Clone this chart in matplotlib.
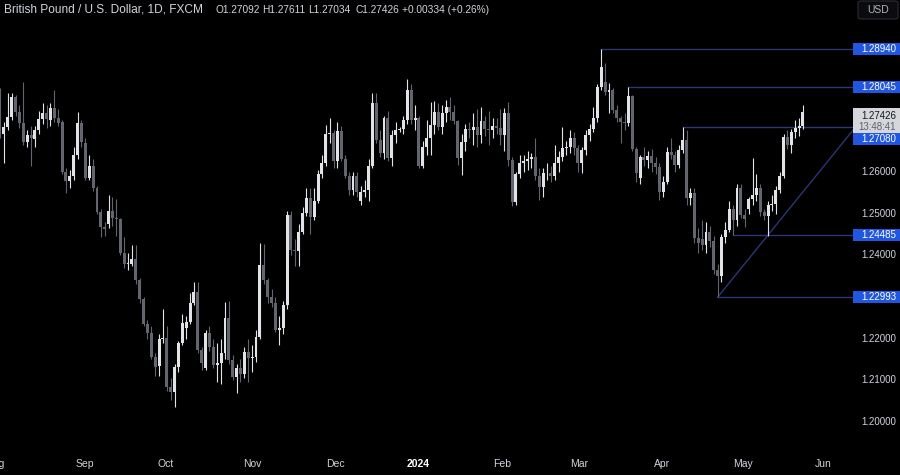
import numpy as np
import matplotlib.pyplot as plt
from matplotlib.patches import Rectangle, FancyBboxPatch
from matplotlib.transforms import blended_transform_factory

# GBPUSD daily candles, Aug 2023 - May 2024
opens = [
    1.2835, 1.2772, 1.2690, 1.2707, 1.2731, 1.2779, 1.2743, 1.2717, 1.2672, 1.2688,
    1.2678, 1.2700, 1.2727, 1.2741, 1.2724, 1.2753, 1.2729, 1.2720, 1.2600, 1.2577,
    1.2590, 1.2640, 1.2717, 1.2670, 1.2585, 1.2615, 1.2561, 1.2504, 1.2468, 1.2475,
    1.2505, 1.2490, 1.2487, 1.2405, 1.2380, 1.2380, 1.2390, 1.2341, 1.2295, 1.2236,
    1.2213, 1.2156, 1.2135, 1.2200, 1.2201, 1.2084, 1.2073, 1.2133, 1.2190, 1.2225,
    1.2240, 1.2285, 1.2312, 1.2173, 1.2130, 1.2213, 1.2180, 1.2137, 1.2142, 1.2165,
    1.2250, 1.2148, 1.2108, 1.2130, 1.2115, 1.2168, 1.2153, 1.2155, 1.2205, 1.2376,
    1.2341, 1.2300, 1.2285, 1.2221, 1.2225, 1.2280, 1.2497, 1.2412, 1.2410, 1.2455,
    1.2501, 1.2538, 1.2492, 1.2530, 1.2595, 1.2622, 1.2691, 1.2693, 1.2625, 1.2698,
    1.2630, 1.2590, 1.2556, 1.2590, 1.2530, 1.2552, 1.2557, 1.2615, 1.2765, 1.2676,
    1.2645, 1.2729, 1.2633, 1.2688, 1.2700, 1.2702, 1.2724, 1.2796, 1.2724, 1.2730,
    1.2614, 1.2659, 1.2681, 1.2712, 1.2743, 1.2707, 1.2742, 1.2756, 1.2743, 1.2722,
    1.2633, 1.2671, 1.2703, 1.2700, 1.2707, 1.2688, 1.2722, 1.2703, 1.2700, 1.2710,
    1.2705, 1.2688, 1.2742, 1.2628, 1.2527, 1.2595, 1.2621, 1.2625, 1.2630, 1.2635,
    1.2590, 1.2563, 1.2597, 1.2597, 1.2590, 1.2621, 1.2635, 1.2657, 1.2660, 1.2681,
    1.2657, 1.2621, 1.2652, 1.2688, 1.2703, 1.2729, 1.2803, 1.2815, 1.2792, 1.2795,
    1.2748, 1.2729, 1.2720, 1.2717, 1.2781, 1.2655, 1.2585, 1.2635, 1.2628, 1.2638,
    1.2621, 1.2612, 1.2551, 1.2576, 1.2647, 1.2640, 1.2616, 1.2652, 1.2676, 1.2537,
    1.2549, 1.2441, 1.2440, 1.2425, 1.2455, 1.2433, 1.2365, 1.2350, 1.2444, 1.2460,
    1.2511, 1.2485, 1.2562, 1.2496, 1.2510, 1.2535, 1.2545, 1.2560, 1.2504, 1.2494,
    1.2520, 1.2522, 1.2556, 1.2590, 1.2683, 1.2664, 1.2695, 1.2705, 1.27092,
]
highs = [
    1.2850, 1.2801, 1.2720, 1.2790, 1.2790, 1.2785, 1.2760, 1.2815, 1.2700, 1.2710,
    1.2710, 1.2745, 1.2765, 1.2760, 1.2765, 1.2796, 1.2750, 1.2725, 1.2610, 1.2605,
    1.2660, 1.2743, 1.2725, 1.2680, 1.2640, 1.2630, 1.2565, 1.2510, 1.2480, 1.2544,
    1.2540, 1.2535, 1.2490, 1.2444, 1.2405, 1.2424, 1.2425, 1.2345, 1.2300, 1.2245,
    1.2230, 1.2165, 1.2210, 1.2270, 1.2230, 1.2105, 1.2140, 1.2195, 1.2260, 1.2255,
    1.2310, 1.2336, 1.2335, 1.2180, 1.2220, 1.2230, 1.2200, 1.2190, 1.2200, 1.2288,
    1.2290, 1.2160, 1.2140, 1.2150, 1.2180, 1.2200, 1.2185, 1.2220, 1.2429, 1.2428,
    1.2345, 1.2320, 1.2300, 1.2255, 1.2290, 1.2505, 1.2505, 1.2440, 1.2475, 1.2515,
    1.2560, 1.2560, 1.2560, 1.2605, 1.2640, 1.2712, 1.2729, 1.2700, 1.2720, 1.2710,
    1.2640, 1.2600, 1.2600, 1.2600, 1.2565, 1.2580, 1.2630, 1.2790, 1.2790, 1.2700,
    1.2735, 1.2745, 1.2700, 1.2720, 1.2708, 1.2735, 1.2823, 1.2810, 1.2760, 1.2735,
    1.2675, 1.2724, 1.2767, 1.2770, 1.2765, 1.2760, 1.2772, 1.2779, 1.2760, 1.2725,
    1.2690, 1.2715, 1.2720, 1.2740, 1.2750, 1.2755, 1.2735, 1.2745, 1.2730, 1.2730,
    1.2750, 1.2753, 1.2767, 1.2635, 1.2600, 1.2640, 1.2640, 1.2650, 1.2645, 1.2681,
    1.2610, 1.2610, 1.2620, 1.2615, 1.2664, 1.2650, 1.2707, 1.2675, 1.2700, 1.2695,
    1.2665, 1.2660, 1.2700, 1.2715, 1.2755, 1.2810, 1.2894, 1.2862, 1.2813, 1.2800,
    1.2760, 1.2735, 1.2740, 1.28045, 1.2785, 1.2660, 1.2640, 1.2659, 1.2650, 1.2655,
    1.2635, 1.2620, 1.2590, 1.2660, 1.2681, 1.2650, 1.2665, 1.2708, 1.2700, 1.2560,
    1.2560, 1.2465, 1.2484, 1.2480, 1.2470, 1.2445, 1.2380, 1.2450, 1.2480, 1.2530,
    1.2520, 1.2570, 1.2570, 1.2510, 1.2540, 1.2633, 1.2595, 1.2570, 1.2510, 1.2530,
    1.2545, 1.2565, 1.2600, 1.2690, 1.2700, 1.2702, 1.2724, 1.2730, 1.27611,
]
lows = [
    1.2760, 1.2680, 1.2621, 1.2700, 1.2725, 1.2735, 1.2705, 1.2665, 1.2660, 1.2615,
    1.2660, 1.2690, 1.2715, 1.2705, 1.2710, 1.2720, 1.2710, 1.2595, 1.2550, 1.2561,
    1.2580, 1.2630, 1.2660, 1.2580, 1.2580, 1.2555, 1.2500, 1.2444, 1.2445, 1.2465,
    1.2470, 1.2445, 1.2400, 1.2370, 1.2365, 1.2375, 1.2330, 1.2285, 1.2230, 1.2200,
    1.2150, 1.2110, 1.2110, 1.2190, 1.2075, 1.2052, 1.2037, 1.2120, 1.2185, 1.2200,
    1.2235, 1.2280, 1.2165, 1.2125, 1.2125, 1.2170, 1.2130, 1.2095, 1.2090, 1.2150,
    1.2140, 1.2100, 1.2070, 1.2095, 1.2105, 1.2095, 1.2120, 1.2145, 1.2200, 1.2330,
    1.2285, 1.2275, 1.2215, 1.2185, 1.2210, 1.2270, 1.2400, 1.2375, 1.2375, 1.2450,
    1.2495, 1.2450, 1.2485, 1.2525, 1.2585, 1.2615, 1.2670, 1.2610, 1.2610, 1.2625,
    1.2585, 1.2545, 1.2545, 1.2540, 1.2520, 1.2540, 1.2530, 1.2610, 1.2670, 1.2635,
    1.2630, 1.2625, 1.2615, 1.2670, 1.2695, 1.2690, 1.2715, 1.2715, 1.2700, 1.2609,
    1.2610, 1.2640, 1.2640, 1.2690, 1.2700, 1.2690, 1.2720, 1.2725, 1.2715, 1.2616,
    1.2592, 1.2650, 1.2680, 1.2665, 1.2660, 1.2670, 1.2685, 1.2665, 1.2680, 1.2690,
    1.2665, 1.2650, 1.2615, 1.2518, 1.2520, 1.2585, 1.2600, 1.2605, 1.2610, 1.2580,
    1.2532, 1.2540, 1.2580, 1.2575, 1.2580, 1.2600, 1.2625, 1.2640, 1.2645, 1.2640,
    1.2600, 1.2597, 1.2640, 1.2675, 1.2695, 1.2720, 1.2795, 1.2785, 1.2741, 1.2740,
    1.2720, 1.2670, 1.2700, 1.2710, 1.2650, 1.2576, 1.2570, 1.2615, 1.2610, 1.2600,
    1.2595, 1.2532, 1.2540, 1.2570, 1.2630, 1.2600, 1.2610, 1.2645, 1.2520, 1.2520,
    1.2430, 1.2405, 1.2412, 1.2405, 1.2420, 1.2355, 1.22993, 1.2335, 1.2430, 1.2455,
    1.24485, 1.2470, 1.2490, 1.2467, 1.2500, 1.2520, 1.2530, 1.2495, 1.2485, 1.2446,
    1.2505, 1.2500, 1.2550, 1.2585, 1.2655, 1.2645, 1.2680, 1.2685, 1.27034,
]
closes = [
    1.2780, 1.2690, 1.2707, 1.2731, 1.2779, 1.2743, 1.2717, 1.2672, 1.2688, 1.2680,
    1.2700, 1.2727, 1.2741, 1.2727, 1.2753, 1.2729, 1.2717, 1.2600, 1.2577, 1.2590,
    1.2640, 1.2717, 1.2672, 1.2585, 1.2615, 1.2561, 1.2504, 1.2468, 1.2462, 1.2505,
    1.2490, 1.2487, 1.2405, 1.2380, 1.2382, 1.2390, 1.2341, 1.2295, 1.2236, 1.2213,
    1.2156, 1.2133, 1.2200, 1.2201, 1.2084, 1.2073, 1.2133, 1.2190, 1.2237, 1.2240,
    1.2285, 1.2312, 1.2173, 1.2141, 1.2213, 1.2180, 1.2137, 1.2142, 1.2165, 1.2250,
    1.2148, 1.2108, 1.2130, 1.2115, 1.2168, 1.2153, 1.2155, 1.2205, 1.2376, 1.2341,
    1.2300, 1.2285, 1.2221, 1.2225, 1.2280, 1.2497, 1.2412, 1.2410, 1.2455, 1.2501,
    1.2538, 1.2492, 1.2530, 1.2595, 1.2622, 1.2691, 1.2693, 1.2625, 1.2698, 1.2630,
    1.2590, 1.2556, 1.2590, 1.2552, 1.2552, 1.2557, 1.2615, 1.2765, 1.2676, 1.2645,
    1.2729, 1.2633, 1.2688, 1.2700, 1.2702, 1.2724, 1.2796, 1.2724, 1.2730, 1.2614,
    1.2659, 1.2681, 1.2712, 1.2743, 1.2708, 1.2742, 1.2756, 1.2743, 1.2722, 1.2633,
    1.2671, 1.2703, 1.2700, 1.2707, 1.2688, 1.2722, 1.2703, 1.2700, 1.2710, 1.2705,
    1.2688, 1.2742, 1.2628, 1.2527, 1.2595, 1.2621, 1.2625, 1.2630, 1.2635, 1.2590,
    1.2563, 1.2597, 1.2597, 1.2590, 1.2621, 1.2635, 1.2657, 1.2660, 1.2681, 1.2657,
    1.2621, 1.2652, 1.2688, 1.2703, 1.2729, 1.2803, 1.2852, 1.2792, 1.2795, 1.2748,
    1.2729, 1.2720, 1.2717, 1.2781, 1.2655, 1.2597, 1.2635, 1.2628, 1.2638, 1.2621,
    1.2612, 1.2551, 1.2576, 1.2647, 1.2640, 1.2616, 1.2652, 1.2676, 1.2537, 1.2549,
    1.2441, 1.2430, 1.2425, 1.2455, 1.2433, 1.2365, 1.2350, 1.2444, 1.2460, 1.2511,
    1.2485, 1.2562, 1.2496, 1.2487, 1.2535, 1.2545, 1.2560, 1.2504, 1.2494, 1.2520,
    1.2522, 1.2556, 1.2590, 1.2683, 1.2664, 1.2695, 1.2705, 1.2709, 1.27426,
]

month_labels = ["Aug", "Sep", "Oct", "Nov", "Dec", "2024", "Feb", "Mar", "Apr", "May", "Jun"]
month_pos = [0.0, 22.9, 43.8, 66.0, 87.6, 108.8, 130.4, 150.3, 171.7, 192.5, 213.2]
price_ticks = [1.20, 1.21, 1.22, 1.24, 1.25, 1.26]

# horizontal levels drawn on the chart and the bar they start from
levels = [1.28940, 1.28045, 1.27080, 1.24485, 1.22993]
level_start = [156, 163, 177, 190, 186]
# trendline anchors (bar, price)
trend_bars = [186, 199]
trend_prices = [1.22993, 1.24485]

title = "British Pound / U.S. Dollar, 1D, FXCM"
ohlc_parts = ["O1.27092", "H1.27611", "L1.27034", "C1.27426", "+0.00334 (+0.26%)"]

UP = "#e2e3e7"
DOWN = "#62656e"
LINE = "#2c3575"
BLUE = "#2157e0"
TXT = "#d1d4dc"

W, H = 900, 475
PX_BAR = 3.879
YMIN, YMAX = 1.19329, 1.30120

plt.rcParams["font.family"] = ["Liberation Sans", "DejaVu Sans"]

fig = plt.figure(figsize=(W / 100, H / 100), dpi=100, facecolor="black")
ax = fig.add_axes([0, 25 / H, 846 / W, 450 / H])
ax.set_facecolor("black")
ax.axis("off")
xmax = 1 + 846 / PX_BAR
ax.set_xlim(1, xmax)
ax.set_ylim(YMIN, YMAX)

o = np.array(opens)
hi = np.array(highs)
lo = np.array(lows)
c = np.array(closes)
idx = np.arange(len(c))
cols = np.where(c >= o, UP, DOWN)

ax.vlines(idx, lo, hi, colors=cols, linewidth=0.8, zorder=2)
ax.bar(idx, np.maximum(np.abs(c - o), 0.00012), bottom=np.minimum(o, c),
       width=0.76, color=cols, linewidth=0, zorder=3)

# drawings
x_lab = 1 + 856 / PX_BAR
for lv, st in zip(levels, level_start):
    ax.plot([st, x_lab], [lv, lv], color=LINE, lw=1, clip_on=False, zorder=1)
slope = (trend_prices[1] - trend_prices[0]) / (trend_bars[1] - trend_bars[0])
ax.plot([trend_bars[0], x_lab],
        [trend_prices[0], trend_prices[0] + slope * (x_lab - trend_bars[0])],
        color=LINE, lw=1, clip_on=False, zorder=1)


def py(p):
    # pixel row (from top) of a price
    return (YMAX - p) / (YMAX - YMIN) * 450


def fy(row):
    return 1 - row / H


# price scale
for p in price_ticks:
    fig.text(896 / W, fy(py(p)), f"{p:.5f}", color=TXT, fontsize=7,
             ha="right", va="center")

# level tags
tag_rows = {lv: py(lv) for lv in levels}
tag_rows[1.27080] = 139  # pushed down under the last-price tag
for lv in levels:
    r = tag_rows[lv]
    fig.add_artist(Rectangle((853 / W, fy(r + 6)), 47 / W, 12 / H,
                             transform=fig.transFigure, facecolor=BLUE,
                             edgecolor="none", zorder=2))
    fig.text(896 / W, fy(r), f"{lv:.5f}", color="white", fontsize=7,
             ha="right", va="center", zorder=3)

# last price tag with countdown
fig.add_artist(Rectangle((853 / W, fy(133)), 47 / W, 25 / H,
                         transform=fig.transFigure, facecolor="#d6d7db",
                         edgecolor="none", zorder=2))
fig.text(896 / W, fy(116), f"{closes[-1]:.5f}", color="#131722", fontsize=7,
         ha="right", va="center", zorder=3)
fig.text(896 / W, fy(127), "13:48:41", color="#5d606b", fontsize=7,
         ha="right", va="center", zorder=3)

# currency button
fig.add_artist(FancyBboxPatch((858 / W, fy(19)), 40 / W, 18 / H,
                              boxstyle="round,pad=0,rounding_size=0.004",
                              transform=fig.transFigure, facecolor="#0c0c0e",
                              edgecolor="#2a2e39", lw=0.8, zorder=2))
fig.text(878 / W, fy(10), "USD", color="#b2b5be", fontsize=7.5,
         ha="center", va="center", zorder=3)

# time scale
tb = blended_transform_factory(ax.transData, fig.transFigure)
for lab, pos in zip(month_labels, month_pos):
    bold = lab == "2024"
    fig.text(pos, fy(464), lab, transform=tb, fontsize=7.5,
             color="white" if bold else TXT,
             fontweight="bold" if bold else "normal", ha="center", va="center")

# legend line at top left
fig.text(4 / W, fy(10), title, color=TXT, fontsize=8.6, ha="left", va="center")
for part, xpx in zip(ohlc_parts, [215, 262, 308, 355, 402]):
    fig.text(xpx / W, fy(10), part, color=TXT, fontsize=7.3, ha="left", va="center")

fig.savefig("out.png", dpi=100, facecolor="black")
